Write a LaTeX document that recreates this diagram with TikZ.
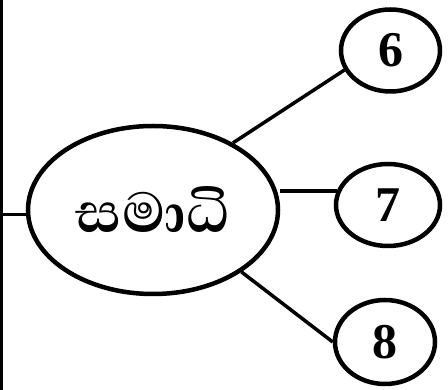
\documentclass[tikz,border=0pt]{standalone}
\usepackage{fontspec}
\usetikzlibrary{shapes.geometric}
\setmainfont{Liberation Serif}
\newfontfamily\sinhalafont[Script=Sinhala]{Abhaya Libre}

\begin{document}
\begin{tikzpicture}[x=1pt,y=-1pt,
topicnode/.style={ellipse,draw=black,line width=4.5pt,inner sep=0pt,minimum width=250pt,minimum height=168pt,font=\sinhalafont\bfseries\fontsize{72}{80}\selectfont},
numnode/.style={ellipse,draw=black,line width=4.5pt,inner sep=0pt,minimum height=82pt,font=\bfseries\fontsize{50}{58}\selectfont},
branch/.style={line width=3.5pt}]
\useasboundingbox (0,0) rectangle (448,390);
\coordinate (spinetop) at (1.5,0);
\coordinate (spinebot) at (1.5,390);
\draw [branch] (spinetop) -- (spinebot);
\node (samadhi) at (153, 210) [topicnode] {සමාධි};
\node (six) at (390.5, 50.5) [numnode,minimum width=99pt] {6};
\node (seven) at (388, 205) [numnode,minimum width=104pt] {7};
\node (eight) at (385, 342) [numnode,minimum width=100pt,minimum height=84pt] {8};
\draw [branch] (samadhi.182) -- (samadhi.182 -| spinetop);
\draw [branch] (samadhi.40) -- (six.203);
\draw [branch] (samadhi.east |- seven.165) -- (seven.165);
\draw [branch] (samadhi.-35) -- (eight.west);
\end{tikzpicture}
\end{document}
